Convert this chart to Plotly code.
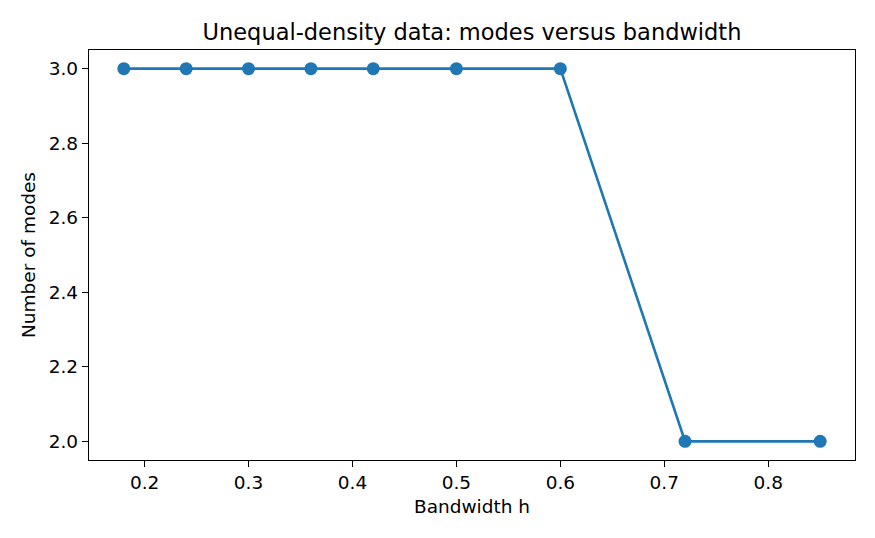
import plotly.graph_objects as go

bandwidth = [0.18, 0.24, 0.30, 0.36, 0.42, 0.50, 0.60, 0.72, 0.85]
modes = [3, 3, 3, 3, 3, 3, 3, 2, 2]

xticks = [0.2, 0.3, 0.4, 0.5, 0.6, 0.7, 0.8]
yticks = [2.0, 2.2, 2.4, 2.6, 2.8, 3.0]

blue = '#1f77b4'
font = 'DejaVu Sans'

fig = go.Figure()
fig.add_trace(
    go.Scatter(
        x=bandwidth,
        y=modes,
        mode='lines+markers',
        line=dict(color=blue, width=2.6),
        marker=dict(color=blue, size=13),
        showlegend=False
    )
)

# matplotlib-like axes: box spines, outside ticks on left/bottom only
axis = dict(
    showgrid=False,
    zeroline=False,
    showline=True,
    mirror=True,
    linecolor='black',
    linewidth=1.3,
    ticks='outside',
    ticklen=6,
    tickwidth=1.3,
    tickcolor='black',
    tickfont=dict(family=font, size=18.5, color='black'),
)

# page body adds an 8px offset, so margins are shifted to compensate
fig.update_layout(
    width=875,
    height=538,
    paper_bgcolor='white',
    plot_bgcolor='white',
    margin=dict(l=81, r=28, t=42, b=86),
    title=dict(
        text='Unequal-density data: modes versus bandwidth',
        font=dict(family=font, size=22.5, color='black'),
        x=464 / 875,
        xanchor='center',
        y=1 - 24 / 538,
        yanchor='middle'
    ),
    xaxis=dict(
        axis,
        range=[0.1465, 0.8835],
        tickvals=xticks,
        ticktext=['%.1f' % v for v in xticks],
        title=dict(text='Bandwidth h', font=dict(family=font, size=18.5, color='black'), standoff=7),
    ),
    yaxis=dict(
        axis,
        range=[1.95, 3.05],
        tickvals=yticks,
        ticktext=['%.1f' % v for v in yticks],
        title=dict(text='Number of modes', font=dict(family=font, size=18.5, color='black'), standoff=8),
    ),
)

fig.write_html("out.html")
